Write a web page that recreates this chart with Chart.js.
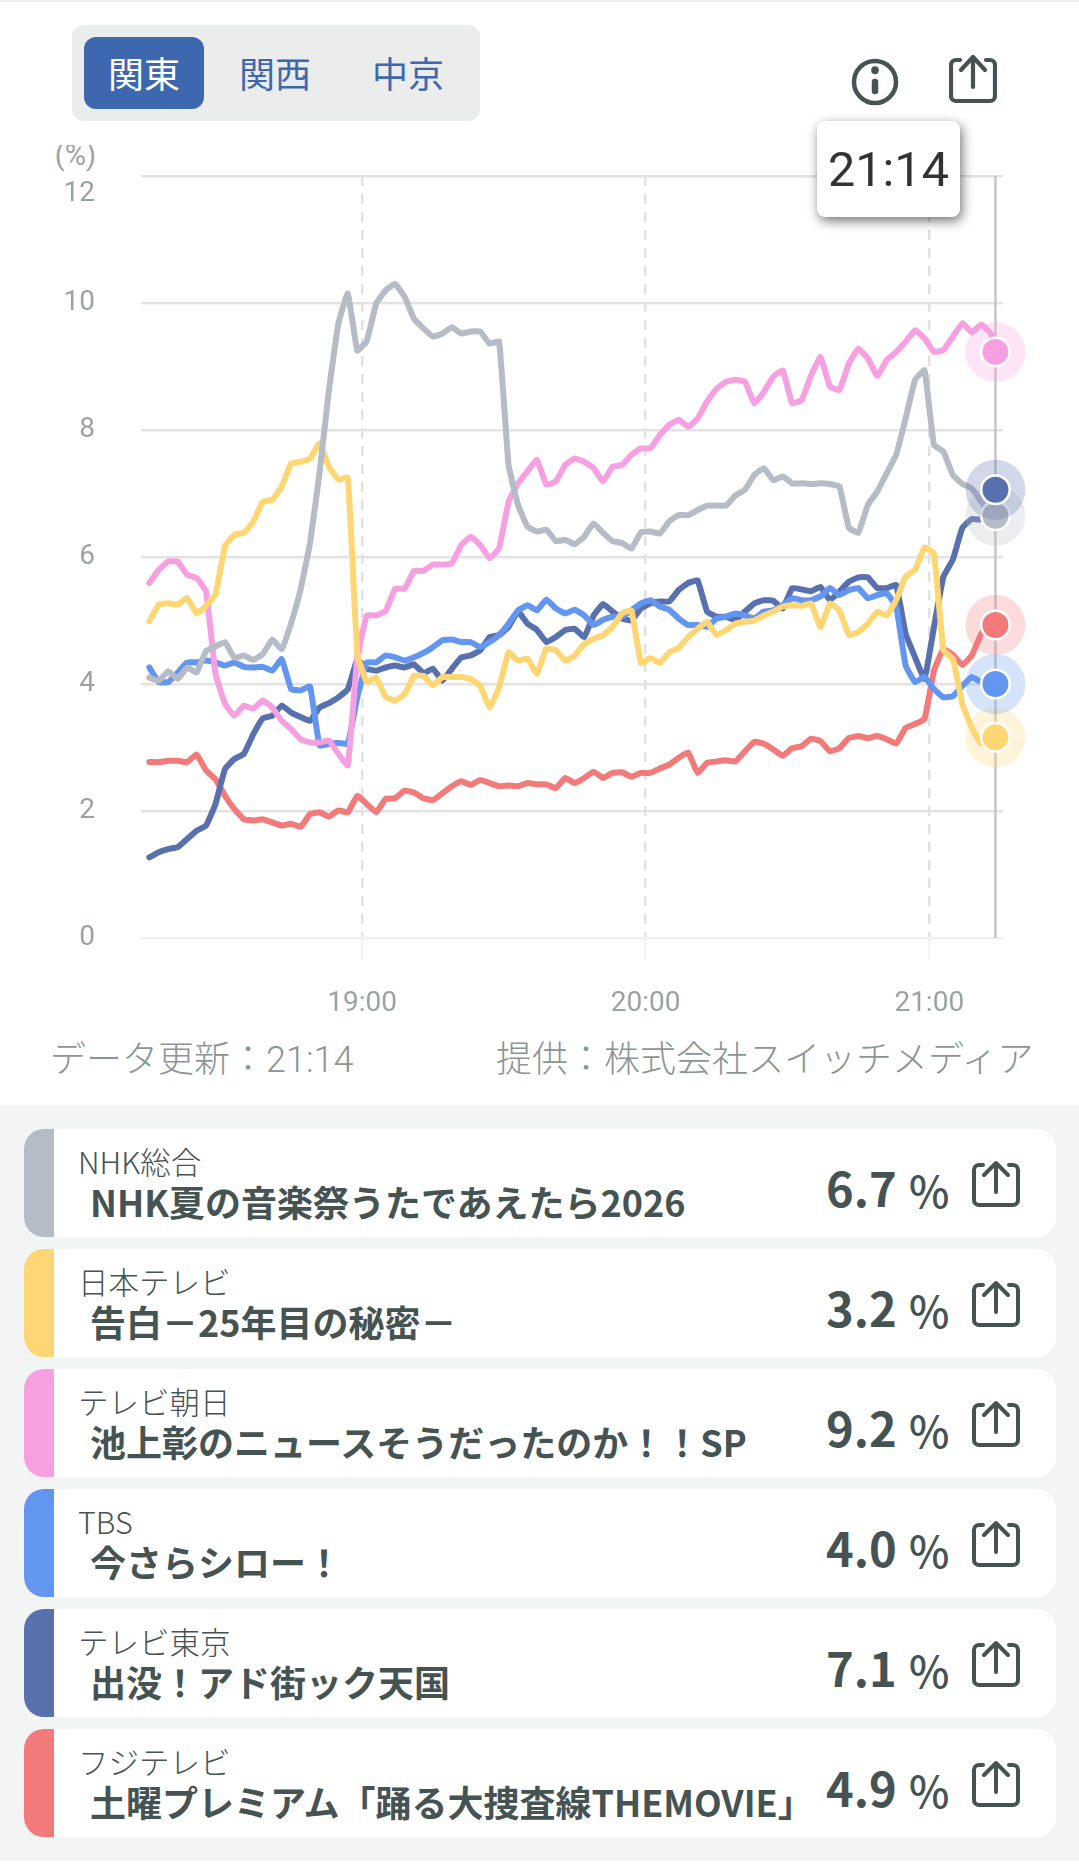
<!DOCTYPE html>
<html lang="ja">
<head>
<meta charset="utf-8">
<title>視聴率</title>
<script src="https://cdn.jsdelivr.net/npm/chart.js@4/dist/chart.umd.min.js"></script>
<style>
  html, body { margin: 0; padding: 0; background: #fff; }
  body { position: relative; width: 1079px; height: 1866px; overflow: hidden; color: #465353;
         font-family: "Noto Sans CJK JP", sans-serif; }
  .topline { position: absolute; left: 0; top: 0; width: 1079px; height: 2px; background: #eeeeee; }
  .tabs { position: absolute; left: 72px; top: 25px; width: 408px; height: 96px; background: #ebeded; border-radius: 12px; }
  .tab { position: absolute; top: 12px; width: 120px; height: 72px; line-height: 70px; text-align: center;
         font-size: 36px; color: #3d68b0; border-radius: 12px; }
  .tab.on { background: #3d68b0; color: #fff; }
  .icon { position: absolute; fill: none; stroke: #465353; stroke-linecap: round; stroke-linejoin: round; }
  canvas { position: absolute; left: 0; top: 150px; }
  .unit { position: absolute; left: 40px; top: 145px; width: 60px; height: 40px; overflow: hidden; }
  .unit span { position: absolute; right: 4px; top: -10px; font: 400 29px/40px Roboto, sans-serif; color: #9aa3a3; }
  .tip { position: absolute; left: 817px; top: 121px; width: 143px; height: 96px; background: #fff; border-radius: 8px;
         box-shadow: 2px 4px 12px rgba(0,0,0,.55); text-align: center; font: 400 48.5px/98px Roboto, sans-serif; color: #333; }
  .foot { position: absolute; top: 1037px; font: 300 36px/46px Roboto, "Noto Sans CJK JP", sans-serif; color: #8b9595; white-space: nowrap; }
  .panel { position: absolute; left: 0; top: 1105px; width: 1079px; height: 756px; background: #f3f5f5; }
  .card { position: absolute; left: 24px; width: 1032px; height: 108px; background: #fff; border-radius: 20px; overflow: hidden; }
  .bar { position: absolute; left: 0; top: 0; width: 30px; height: 108px; }
  .station { position: absolute; left: 54px; top: 12px; font-size: 30.5px; line-height: 40px; font-weight: 300; white-space: nowrap; }
  .program { position: absolute; left: 66px; top: 48px; font-size: 36px; line-height: 48px; font-weight: 700; white-space: nowrap; }
  .rate { position: absolute; left: 802px; top: 28px; font-size: 47px; line-height: 60px; font-weight: 700; white-space: nowrap; }
  .pct { position: absolute; left: 885px; top: 30px; font-size: 43px; line-height: 60px; font-weight: 500; }
</style>
</head>
<body>
<div class="topline"></div>
<div class="tabs">
  <div class="tab on" style="left:12px">関東</div>
  <div class="tab" style="left:143px">関西</div>
  <div class="tab" style="left:276px">中京</div>
</div>
<svg class="icon" style="left:851px;top:58px" width="48" height="48" viewBox="0 0 48 48" stroke-width="4.5">
  <circle cx="24" cy="24" r="21"/><path d="M24 24V33" stroke-width="6.5"/><path d="M24 12V12.5" stroke-width="7.5"/>
</svg>
<svg class="icon" style="left:949px;top:54px" width="48" height="52" viewBox="0 0 48 52" stroke-width="4.2">
  <path d="M11 6H7a5 5 0 0 0-5 5V42a5 5 0 0 0 5 5H41a5 5 0 0 0 5-5V11a5 5 0 0 0-5-5H37"/><path d="M24 33V3M12 16L24 3L36 16"/>
</svg>
<div class="unit"><span>(%)</span></div>
<canvas id="chart" width="1079" height="880"></canvas>
<div class="tip">21:14</div>
<div class="foot" style="left:50px">データ更新：21:14</div>
<div class="foot" style="left:496px">提供：株式会社スイッチメディア</div>
<div class="panel" id="panel"></div>

<script>
// sampled every two minutes, plus the last reading
const times = ['18:15','18:17','18:19','18:21','18:23','18:25','18:27','18:29','18:31','18:33','18:35','18:37','18:39','18:41','18:43','18:45','18:47','18:49','18:51','18:53','18:55','18:57','18:59',
  '19:01','19:03','19:05','19:07','19:09','19:11','19:13','19:15','19:17','19:19','19:21','19:23','19:25','19:27','19:29','19:31','19:33','19:35','19:37','19:39','19:41','19:43','19:45','19:47','19:49','19:51','19:53','19:55','19:57','19:59',
  '20:01','20:03','20:05','20:07','20:09','20:11','20:13','20:15','20:17','20:19','20:21','20:23','20:25','20:27','20:29','20:31','20:33','20:35','20:37','20:39','20:41','20:43','20:45','20:47','20:49','20:51','20:53','20:55','20:57','20:59',
  '21:01','21:03','21:05','21:07','21:09','21:11','21:13','21:14'];

const nhk = [4.10,4.05,4.20,4.08,4.26,4.18,4.52,4.59,4.66,4.41,4.45,4.38,4.47,4.70,4.55,4.96,5.49,6.22,7.32,8.63,9.68,10.15,9.25,9.4,9.99,10.2,10.3,10.1,9.75,9.6,
  9.47,9.52,9.62,9.52,9.55,9.55,9.36,9.39,7.45,6.82,6.48,6.4,6.43,6.25,6.27,6.2,6.32,6.53,6.38,6.25,6.22,6.13,6.39,6.4,6.37,6.56,6.66,6.66,6.74,6.81,
  6.81,6.81,6.97,7.06,7.29,7.4,7.21,7.27,7.16,7.16,7.15,7.16,7.15,7.11,6.46,6.38,6.82,7.03,7.32,7.61,8.18,8.79,8.94,7.76,7.66,7.29,7.15,7.08,6.87,6.66,6.65];
const ntv = [4.99,5.25,5.27,5.25,5.36,5.11,5.23,5.41,6.17,6.35,6.38,6.56,6.87,6.9,7.11,7.47,7.5,7.55,7.79,7.42,7.22,7.25,4.47,4.03,4.1,3.8,3.74,3.84,4.13,4.13,
  3.98,4.11,4.11,4.11,4.08,3.97,3.63,3.95,4.5,4.37,4.4,4.16,4.56,4.53,4.37,4.45,4.63,4.71,4.77,4.9,5.11,5.16,4.33,4.41,4.33,4.5,4.57,4.74,4.87,4.98,
  4.77,4.85,4.95,4.98,5.0,5.08,5.14,5.22,5.24,5.23,5.27,4.89,5.27,5.16,4.77,4.82,4.95,5.14,5.08,5.32,5.69,5.8,6.15,6.05,4.53,4.4,3.68,3.31,3.06,3.1,3.16];
const asahi = [5.59,5.8,5.93,5.93,5.72,5.67,5.46,4.16,3.69,3.5,3.66,3.61,3.74,3.63,3.42,3.29,3.13,3.08,3.08,3.11,2.9,2.72,4.42,5.08,5.08,5.15,5.5,5.5,5.78,5.78,
  5.88,5.88,5.9,6.19,6.32,6.19,5.98,6.14,6.87,7.16,7.35,7.53,7.14,7.19,7.45,7.55,7.5,7.4,7.19,7.42,7.45,7.61,7.71,7.71,7.92,8.08,8.16,8.05,8.18,8.45,
  8.65,8.76,8.79,8.76,8.42,8.6,8.84,8.94,8.42,8.47,8.86,9.15,8.68,8.63,9.05,9.28,9.13,8.85,9.1,9.23,9.39,9.57,9.44,9.23,9.26,9.47,9.68,9.54,9.66,9.52,9.23];
const tbs = [4.26,4.03,4.03,4.18,4.34,4.34,4.37,4.34,4.29,4.34,4.27,4.26,4.27,4.21,4.39,3.92,3.9,3.96,3.03,3.06,3.07,3.06,3.79,4.34,4.34,4.45,4.42,4.37,4.42,4.49,
  4.58,4.69,4.7,4.66,4.66,4.58,4.66,4.77,4.95,5.16,5.24,5.16,5.33,5.19,5.11,5.17,5.08,4.93,5.01,5.06,5.06,5.16,5.27,5.32,5.22,5.17,5.03,4.93,4.93,4.9,
  5.03,5.06,5.11,5.08,5.03,5.14,5.16,5.24,5.35,5.32,5.32,5.38,5.51,5.4,5.48,5.51,5.35,5.4,5.43,5.22,4.29,4.03,4.11,3.92,3.79,3.81,3.97,4.11,4.03,4.0,4.0];
const tokyo = [1.27,1.35,1.4,1.43,1.56,1.69,1.77,2.11,2.66,2.82,2.9,3.21,3.46,3.5,3.66,3.55,3.48,3.42,3.63,3.7,3.79,3.92,4.38,4.24,4.21,4.26,4.29,4.26,4.31,4.17,
  4.24,4.05,4.24,4.42,4.45,4.53,4.74,4.77,4.9,5.14,4.95,4.85,4.66,4.74,4.85,4.87,4.74,5.08,5.26,5.14,5.03,5.0,5.19,5.27,5.3,5.3,5.48,5.59,5.63,5.14,
  5.06,5.06,5.01,5.14,5.27,5.32,5.31,5.19,5.51,5.49,5.46,5.53,5.32,5.46,5.61,5.68,5.68,5.51,5.51,5.56,4.79,4.42,4.08,4.9,5.69,5.96,6.46,6.6,6.59,6.82,7.06];
const fuji = [2.77,2.77,2.79,2.79,2.77,2.89,2.64,2.5,2.24,2.03,1.87,1.85,1.87,1.82,1.77,1.8,1.75,1.95,1.98,1.91,2.01,1.98,2.24,2.11,1.98,2.19,2.2,2.32,2.29,2.2,
  2.17,2.28,2.39,2.47,2.41,2.49,2.44,2.39,2.4,2.39,2.44,2.42,2.42,2.36,2.52,2.44,2.52,2.62,2.52,2.6,2.61,2.54,2.6,2.6,2.67,2.73,2.84,2.92,2.6,2.76,
  2.78,2.8,2.78,2.94,3.09,3.06,2.97,2.87,2.99,3.02,3.14,3.1,2.94,2.99,3.15,3.18,3.15,3.18,3.13,3.06,3.31,3.37,3.45,4.21,4.55,4.46,4.3,4.45,4.79,4.9,4.93];

const hourTicks = ['19:00','20:00','21:00'];
const stations = ['NHK総合','日本テレビ','テレビ朝日','TBS','テレビ東京','フジテレビ'];
const programs = ['NHK夏の音楽祭うたであえたら2026','告白－25年目の秘密－','池上彰のニュースそうだったのか！！SP','今さらシロー！','出没！アド街ック天国','土曜プレミアム「踊る大捜査線THEMOVIE」'];
const rates = ['6.7','3.2','9.2','4.0','7.1','4.9'];
const colors = ['#b5bcc5','#ffd674','#f6a0e2','#6396f0','#5870ae','#f27a7a'];
const allSeries = [nhk, ntv, asahi, tbs, tokyo, fuji];

function toMinutes(t) {
  const p = t.split(':');
  return Number(p[0]) * 60 + Number(p[1]);
}

// cursor line at the newest reading, and the round markers on top of the lines
const cursorPlugin = {
  id: 'cursor',
  beforeDatasetsDraw(chart) {
    const c = chart.ctx, x = chart.scales.x.getPixelForValue(toMinutes(times[times.length - 1]));
    c.save();
    c.strokeStyle = '#c6c6c6';
    c.lineWidth = 2.5;
    c.beginPath();
    c.moveTo(x, chart.chartArea.top);
    c.lineTo(x, chart.chartArea.bottom);
    c.stroke();
    c.restore();
  },
  afterDatasetsDraw(chart) {
    const c = chart.ctx;
    chart.data.datasets.forEach((ds, i) => {
      const pts = chart.getDatasetMeta(i).data;
      const p = pts[pts.length - 1];
      c.save();
      c.fillStyle = ds.borderColor;
      c.globalAlpha = 0.27;
      c.beginPath(); c.arc(p.x, p.y, 30, 0, Math.PI * 2); c.fill();
      c.globalAlpha = 1;
      c.fillStyle = '#fff';
      c.beginPath(); c.arc(p.x, p.y, 15.5, 0, Math.PI * 2); c.fill();
      c.fillStyle = ds.borderColor;
      c.beginPath(); c.arc(p.x, p.y, 13, 0, Math.PI * 2); c.fill();
      c.restore();
    });
  }
};

new Chart(document.getElementById('chart'), {
  type: 'line',
  data: {
    datasets: allSeries.map((s, i) => ({
      label: stations[i],
      data: s.map((v, j) => ({ x: toMinutes(times[j]), y: v })),
      borderColor: colors[i],
      borderWidth: 6,
      borderCapStyle: 'round',
      borderJoinStyle: 'round',
      tension: 0.1,
      pointRadius: 0,
      fill: false
    }))
  },
  plugins: [cursorPlugin],
  options: {
    responsive: false,
    animation: false,
    events: [],
    clip: false,
    layout: { padding: { top: 26, right: 76, left: 0, bottom: 0 } },
    plugins: { legend: { display: false }, tooltip: { enabled: false } },
    scales: {
      x: {
        type: 'linear',
        min: 1093.24,
        max: 1275.6,
        afterBuildTicks(scale) { scale.ticks = hourTicks.map(t => ({ value: toMinutes(t) })); },
        afterFit(scale) { scale.height = 92; scale.paddingLeft = 0; scale.paddingRight = 0; },
        border: { display: false, dash: [10, 8] },
        grid: { color: '#e2e2e2', lineWidth: 2.5, drawTicks: true, tickLength: 22, tickColor: '#f0f0f0', tickWidth: 2 },
        ticks: {
          maxRotation: 0,
          padding: 28,
          color: '#9aa3a3',
          font: { family: 'Roboto', size: 28, weight: 400, lineHeight: 1.143 },
          callback: v => hourTicks.find(t => toMinutes(t) === v)
        }
      },
      y: {
        min: 0,
        max: 12,
        afterFit(scale) { scale.width = 141; scale.paddingTop = 0; scale.paddingBottom = 0; },
        border: { display: false },
        grid: { color: c => c.tick.value === 0 ? '#efefef' : '#e3e3e3', lineWidth: 2.5, drawTicks: false },
        ticks: {
          stepSize: 2,
          padding: 46,
          color: '#9aa3a3',
          font: { family: 'Roboto', size: 28, weight: 400, lineHeight: 1.25 },
          // the top label sits one half line lower than its grid line
          callback: v => v === 12 ? ['', '12'] : String(v)
        }
      }
    }
  }
});

// program cards below the chart
const panel = document.getElementById('panel');
const shareIcon = '<svg class="icon" style="left:948px;top:31px" width="48" height="50" viewBox="0 0 48 50" stroke-width="4">' +
  '<path d="M11 5H7a5 5 0 0 0-5 5V40a5 5 0 0 0 5 5H41a5 5 0 0 0 5-5V10a5 5 0 0 0-5-5H37"/><path d="M24 32V3M12 15L24 3L36 15"/></svg>';
stations.forEach((name, i) => {
  const card = document.createElement('div');
  card.className = 'card';
  card.style.top = (24 + i * 120) + 'px';
  card.innerHTML = '<div class="bar" style="background:' + colors[i] + '"></div>' +
    '<div class="station">' + name + '</div>' +
    '<div class="program">' + programs[i] + '</div>' +
    '<div class="rate">' + rates[i] + '</div>' +
    '<div class="pct">%</div>' + shareIcon;
  panel.appendChild(card);
});
</script>
</body>
</html>
